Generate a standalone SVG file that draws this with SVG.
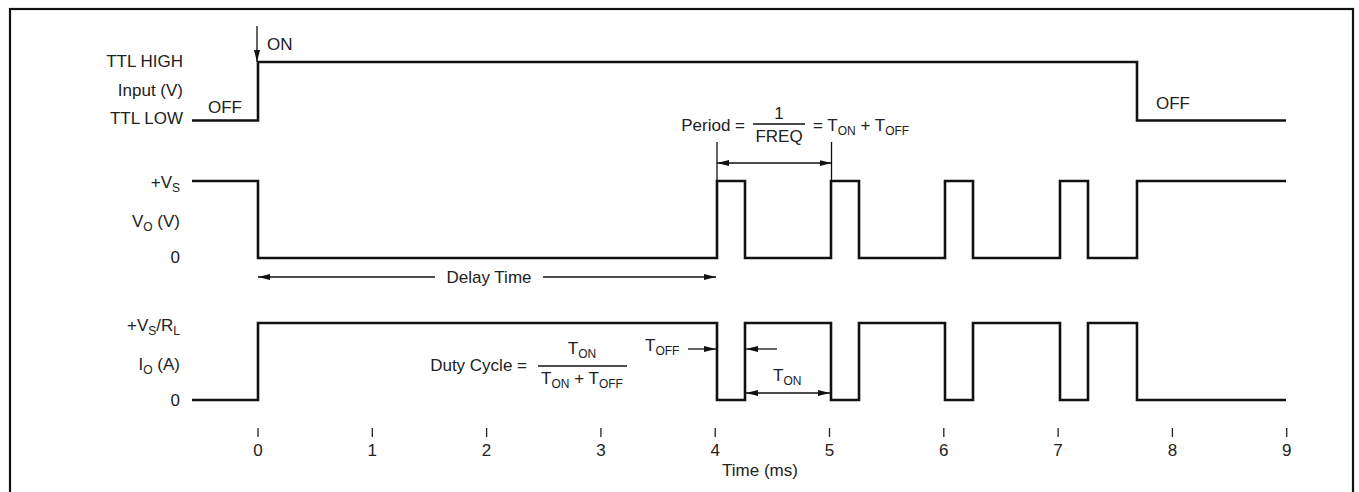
<svg xmlns="http://www.w3.org/2000/svg" width="1359" height="492" viewBox="0 0 1359 492">
<style>
text{font-family:"Liberation Sans",Arial,Helvetica,sans-serif;font-size:17px;fill:#222}
.sub{font-size:12px}
.sig{fill:none;stroke:#111;stroke-width:2.6;stroke-linejoin:miter;stroke-linecap:butt}
.thin{fill:none;stroke:#111;stroke-width:1.3}
.tick{stroke:#222;stroke-width:1.3}
.frame{fill:none;stroke:#111;stroke-width:2.2}
</style>
<defs>
<marker id="ah" viewBox="0 0 12 6" refX="12" refY="3" markerWidth="12" markerHeight="6" markerUnits="userSpaceOnUse" orient="auto-start-reverse">
<path d="M0,0 L12,3 L0,6 z" fill="#111"/>
</marker>
</defs>
<rect id="frame" class="frame" x="10" y="9" width="1343" height="500"/>

<g id="input-signal">
<text x="183" y="67" text-anchor="end">TTL HIGH</text>
<text x="183" y="96" text-anchor="end">Input (V)</text>
<text x="183" y="124" text-anchor="end">TTL LOW</text>
<text x="208" y="113">OFF</text>
<text x="267" y="50">ON</text>
<text x="1156" y="109">OFF</text>
<path class="sig" d="M192,120.5 H258 V62 H1137 V120.5 H1286"/>
</g>

<g id="vo-signal">
<text x="180" y="188" text-anchor="end">+V<tspan class="sub" dy="4">S</tspan></text>
<text x="180" y="227" text-anchor="end">V<tspan class="sub" dy="4">O</tspan><tspan dy="-4"> (V)</tspan></text>
<text x="180" y="263" text-anchor="end">0</text>
<path class="sig" d="M192,181 H258 V258 H717 V181 H745 V258 H831 V181 H859 V258 H945 V181 H973 V258 H1060 V181 H1088 V258 H1137 V181 H1286"/>
</g>

<g id="io-signal">
<text x="180" y="331" text-anchor="end">+V<tspan class="sub" dy="4">S</tspan><tspan dy="-4">/R</tspan><tspan class="sub" dy="4">L</tspan></text>
<text x="180" y="370" text-anchor="end">I<tspan class="sub" dy="4">O</tspan><tspan dy="-4"> (A)</tspan></text>
<text x="180" y="406" text-anchor="end">0</text>
<path class="sig" d="M192,400 H258 V323 H717 V400 H745 V323 H831 V400 H859 V323 H945 V400 H973 V323 H1060 V400 H1088 V323 H1137 V400 H1286"/>
</g>

<g id="time-axis">
<g class="tick">
<line x1="258" y1="428" x2="258" y2="437"/>
<line x1="372.3" y1="428" x2="372.3" y2="437"/>
<line x1="486.6" y1="428" x2="486.6" y2="437"/>
<line x1="600.9" y1="428" x2="600.9" y2="437"/>
<line x1="715.2" y1="428" x2="715.2" y2="437"/>
<line x1="829.5" y1="428" x2="829.5" y2="437"/>
<line x1="943.8" y1="428" x2="943.8" y2="437"/>
<line x1="1058.1" y1="428" x2="1058.1" y2="437"/>
<line x1="1172.4" y1="428" x2="1172.4" y2="437"/>
<line x1="1286.7" y1="428" x2="1286.7" y2="437"/>
</g>
<g text-anchor="middle">
<text x="258" y="456">0</text>
<text x="372.3" y="456">1</text>
<text x="486.6" y="456">2</text>
<text x="600.9" y="456">3</text>
<text x="715.2" y="456">4</text>
<text x="829.5" y="456">5</text>
<text x="943.8" y="456">6</text>
<text x="1058.1" y="456">7</text>
<text x="1172.4" y="456">8</text>
<text x="1286.7" y="456">9</text>
<text x="760" y="476">Time (ms)</text>
</g>
</g>

<g id="period-label">
<text x="745" y="131" text-anchor="end">Period =</text>
<text x="779" y="119" text-anchor="middle">1</text>
<line class="thin" x1="753" y1="124" x2="805" y2="124"/>
<text x="779" y="142" text-anchor="middle">FREQ</text>
<text x="813" y="131">= T<tspan class="sub" dy="4">ON</tspan><tspan dy="-4"> + T</tspan><tspan class="sub" dy="4">OFF</tspan></text>
</g>

<g id="delay-label">
<text x="489" y="283" text-anchor="middle">Delay Time</text>
</g>

<g id="duty-label">
<text x="527" y="371" text-anchor="end">Duty Cycle =</text>
<text x="582" y="354" text-anchor="middle">T<tspan class="sub" dy="4">ON</tspan></text>
<line class="thin" x1="538" y1="366" x2="627" y2="366"/>
<text x="582" y="384" text-anchor="middle">T<tspan class="sub" dy="4">ON</tspan><tspan dy="-4"> + T</tspan><tspan class="sub" dy="4">OFF</tspan></text>
</g>

<g id="toff-label">
<text x="645" y="351">T<tspan class="sub" dy="4">OFF</tspan></text>
</g>
<g id="ton-label">
<text x="773" y="381">T<tspan class="sub" dy="4">ON</tspan></text>
</g>

<g id="connectors">
<line class="thin" x1="257" y1="26" x2="257" y2="62" marker-end="url(#ah)"/>
<line class="thin" x1="717" y1="142" x2="717" y2="181"/>
<line class="thin" x1="831.5" y1="142" x2="831.5" y2="181"/>
<line class="thin" x1="717" y1="163" x2="831.5" y2="163" marker-start="url(#ah)" marker-end="url(#ah)"/>
<line class="thin" x1="435" y1="277" x2="258" y2="277" marker-end="url(#ah)"/>
<line class="thin" x1="543" y1="277" x2="716" y2="277" marker-end="url(#ah)"/>
<line class="thin" x1="688" y1="349" x2="716" y2="349" marker-end="url(#ah)"/>
<line class="thin" x1="777" y1="349" x2="746" y2="349" marker-end="url(#ah)"/>
<line class="thin" x1="746" y1="393" x2="830" y2="393" marker-start="url(#ah)" marker-end="url(#ah)"/>
</g>
</svg>
